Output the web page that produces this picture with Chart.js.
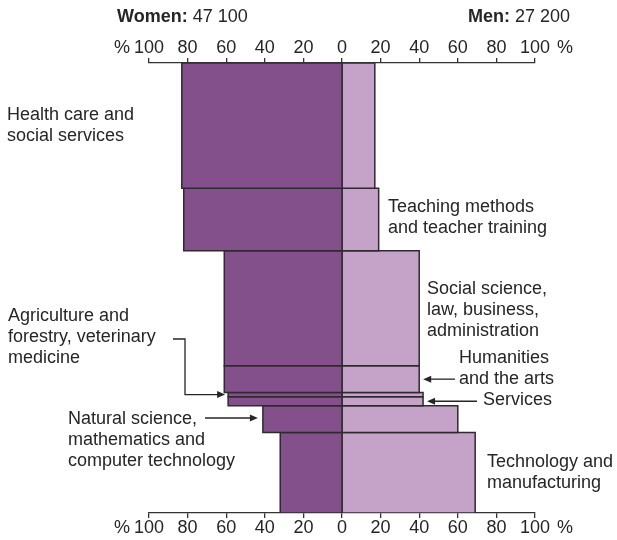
<!DOCTYPE html>
<html>
<head>
<meta charset="utf-8">
<script src="https://cdn.jsdelivr.net/npm/chart.js@4.4.0/dist/chart.umd.min.js"></script>
<style>
  body { margin: 0; background: #fff; }
  #wrap { width: 617px; height: 540px; position: relative; }
</style>
</head>
<body>
<div id="wrap"><canvas id="chart"></canvas></div>
<script>
// fields of study, top to bottom
var categories = [
	"Health care and social services",
	"Teaching methods and teacher training",
	"Social science, law, business, administration",
	"Humanities and the arts",
	"Agriculture and forestry, veterinary medicine",
	"Services",
	"Natural science, mathematics and computer technology",
	"Technology and manufacturing"
];
// number of students per field (bar height)
var students = [20700, 10300, 19000, 4400, 700, 1500, 4400, 13300];
// share of women / men, %
var womenPct = [83, 82, 61, 61, 59, 59, 41, 32];
var menPct   = [17, 19, 40, 40, 42, 42, 60, 69];
var totals = { women: "47 100", men: "27 200" };
var tickValues = [-100, -80, -60, -40, -20, 0, 20, 40, 60, 80, 100];

var darkPurple = "#84508c";
var lightPurple = "#c5a2c8";
var edge = "#2e2a2e";
var textCol = "#262626";
var font = "18px 'Liberation Sans', Arial, sans-serif";

// build one closed rectangle per field and sex, on the data scales
var datasets = [];
var cum = 0;
var mids = [];
for (var i = 0; i < categories.length; i++) {
	var y0 = cum, y1 = cum + students[i];
	mids.push((y0 + y1) / 2);
	datasets.push({
		label: categories[i] + " (women)",
		data: [{x: 0, y: y0}, {x: -womenPct[i], y: y0}, {x: -womenPct[i], y: y1}, {x: 0, y: y1}, {x: 0, y: y0}],
		backgroundColor: darkPurple,
		borderColor: edge,
		borderWidth: 1.5,
		fill: "shape"
	});
	datasets.push({
		label: categories[i] + " (men)",
		data: [{x: 0, y: y0}, {x: menPct[i], y: y0}, {x: menPct[i], y: y1}, {x: 0, y: y1}, {x: 0, y: y0}],
		backgroundColor: lightPurple,
		borderColor: edge,
		borderWidth: 1.5,
		fill: "shape"
	});
	cum = y1;
}
var total = cum;

// text labels and arrows
var labels = [
	{ i: 0, x: 7,   base: 120, lines: ["Health care and", "social services"] },
	{ i: 1, x: 388, base: 212, lines: ["Teaching methods", "and teacher training"] },
	{ i: 2, x: 427, base: 294, lines: ["Social science,", "law, business,", "administration"] },
	{ i: 3, x: 459, base: 363, lines: ["Humanities", "and the arts"], arrow: "right", from: 455 },
	{ i: 4, x: 8,   base: 321, lines: ["Agriculture and", "forestry, veterinary", "medicine"], arrow: "elbow" },
	{ i: 5, x: 483, base: 405, lines: ["Services"], arrow: "right", from: 477 },
	{ i: 6, x: 68,  base: 424, lines: ["Natural science,", "mathematics and", "computer technology"], arrow: "left", from: 205 },
	{ i: 7, x: 487, base: 467, lines: ["Technology and", "manufacturing"] }
];

function arrowHead(ctx, x, y, dir) {
	ctx.beginPath();
	ctx.moveTo(x, y);
	ctx.lineTo(x - dir * 8, y - 3.5);
	ctx.lineTo(x - dir * 8, y + 3.5);
	ctx.closePath();
	ctx.fill();
}

var annotate = {
	id: "annotate",
	afterDraw: function(chart) {
		var ctx = chart.ctx;
		var xs = chart.scales.x, ys = chart.scales.y;
		var area = chart.chartArea;
		ctx.save();
		ctx.fillStyle = textCol;
		ctx.strokeStyle = textCol;
		ctx.lineWidth = 1.3;
		ctx.font = font;
		ctx.textBaseline = "alphabetic";

		// headers
		ctx.textAlign = "left";
		ctx.font = "bold " + font;
		ctx.fillText("Women:", 117, 22);
		var w = ctx.measureText("Women: ").width;
		ctx.font = font;
		ctx.fillText(totals.women, 117 + w, 22);
		ctx.textAlign = "right";
		ctx.fillText(totals.men, 570, 22);
		var w2 = ctx.measureText(" " + totals.men).width;
		ctx.font = "bold " + font;
		ctx.fillText("Men:", 570 - w2, 22);
		ctx.font = font;

		// % signs at the axis ends, level with the tick labels
		ctx.textAlign = "center";
		ctx.textBaseline = "middle";
		var lx = xs.getPixelForValue(-100) - 27, rx = xs.getPixelForValue(100) + 30;
		[area.top - 15, area.bottom + 15].forEach(function(b) {
			ctx.fillText("%", lx, b);
			ctx.fillText("%", rx, b);
		});
		ctx.textBaseline = "alphabetic";

		ctx.textAlign = "left";
		labels.forEach(function(l) {
			l.lines.forEach(function(t, k) {
				ctx.fillText(t, l.x, l.base + k * 21);
			});
			var ay = ys.getPixelForValue(mids[l.i]);
			if (l.arrow === "right") {
				var tip = xs.getPixelForValue(menPct[l.i]) + 4;
				ctx.beginPath(); ctx.moveTo(l.from, ay); ctx.lineTo(tip + 6, ay); ctx.stroke();
				arrowHead(ctx, tip, ay, -1);
			} else if (l.arrow === "left") {
				var tipL = xs.getPixelForValue(-womenPct[l.i]) - 5;
				var ly = l.base - 6;
				ctx.beginPath(); ctx.moveTo(l.from, ly); ctx.lineTo(tipL - 6, ly); ctx.stroke();
				arrowHead(ctx, tipL, ly, 1);
			} else if (l.arrow === "elbow") {
				var tipE = xs.getPixelForValue(-womenPct[l.i]) - 3;
				var ey = l.base + 21 - 3;
				ctx.beginPath();
				ctx.moveTo(173, ey); ctx.lineTo(185, ey); ctx.lineTo(185, ay); ctx.lineTo(tipE - 6, ay);
				ctx.stroke();
				arrowHead(ctx, tipE, ay, 1);
			}
		});
		ctx.restore();
	}
};

var axisCommon = {
	type: "linear",
	min: -100,
	max: 100,
	afterBuildTicks: function(scale) {
		scale.ticks = tickValues.map(function(v) { return { value: v }; });
	},
	grid: { drawOnChartArea: false, drawTicks: true, tickLength: 5, color: "#333", lineWidth: 1.3 },
	border: { display: true, color: "#333", width: 1.3 },
	ticks: {
		autoSkip: false,
		maxRotation: 0,
		padding: 1,
		color: textCol,
		font: { family: "'Liberation Sans', Arial, sans-serif", size: 18, lineHeight: 1.0 },
		callback: function(v) { return Math.abs(v); }
	}
};

var chart = new Chart(document.getElementById("chart"), {
	type: "scatter",
	data: { datasets: datasets },
	options: {
		responsive: true,
		maintainAspectRatio: false,
		animation: false,
		showLine: true,
		elements: { point: { radius: 0, hoverRadius: 0 }, line: { tension: 0 } },
		layout: { padding: { left: 149, right: 82, top: 38, bottom: 2 } },
		plugins: { legend: { display: false }, tooltip: { enabled: false } },
		scales: {
			x: Object.assign({}, axisCommon, { position: "bottom" }),
			x2: Object.assign({}, axisCommon, { position: "top" }),
			y: { type: "linear", min: 0, max: total, reverse: true, display: false }
		}
	},
	plugins: [annotate]
});
</script>
</body>
</html>
